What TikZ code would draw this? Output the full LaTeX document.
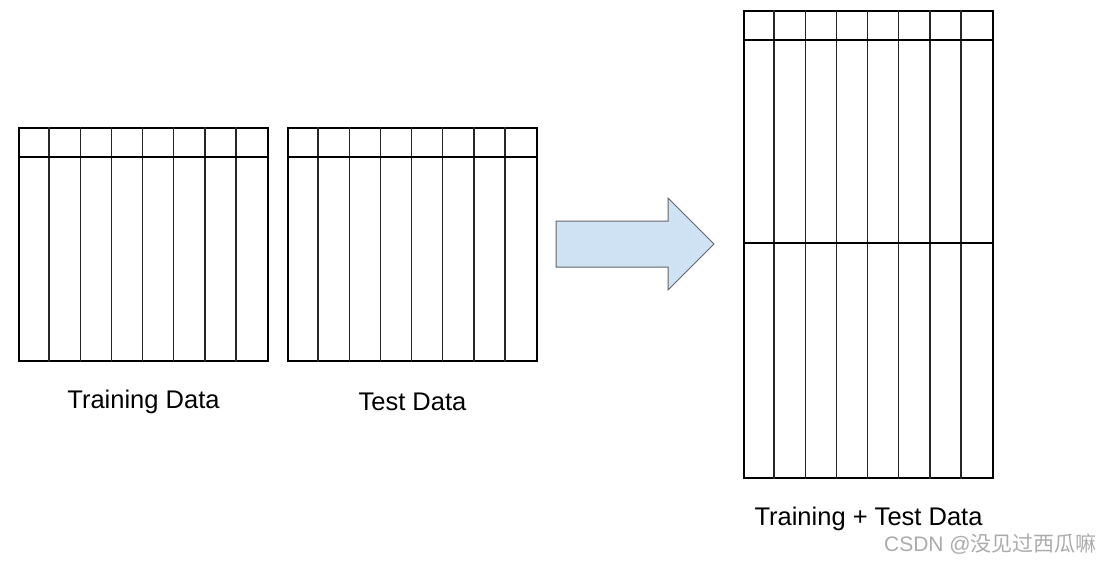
\documentclass[tikz,border=0pt]{standalone}
\usepackage{fontspec}
\setmainfont{Liberation Sans}
\newfontfamily\cjk{Noto Sans CJK SC}
\usetikzlibrary{positioning}

\begin{document}
\begin{tikzpicture}[x=1pt,y=-1pt,
  frame/.style={draw, line width=2pt, inner sep=0pt, minimum width=249pt},
  grid/.style={line width=1.5pt, draw=black!85},
  bar/.style={line width=2pt},
  datalabel/.style={font=\fontsize{25.5}{30}\selectfont},
  every node/.style={inner sep=0pt}]

\useasboundingbox (0,0) rectangle (1101,563);

% Left tables
\node[frame, minimum height=233pt, anchor=north west] (train) at (18,127) {};
\node[frame, minimum height=233pt, anchor=north west] (test) at (287,127) {};

% Combined table
\node[frame, minimum height=467pt, anchor=north west] (both) at (743,10) {};

\foreach \t in {train,test,both} {
  \foreach \i in {1,...,7}
    \draw[grid] ([xshift=\i*31.125pt]\t.north west) -- ([xshift=\i*31.125pt]\t.south west);
  \draw[bar] ([yshift=-30pt]\t.north west) -- ([yshift=-30pt]\t.north east);
}
\draw[bar] ([yshift=-233pt]both.north west) -- ([yshift=-233pt]both.north east);

% Arrow
\draw[fill={rgb,255:red,207;green,226;blue,243}, draw={rgb,255:red,100;green,100;blue,100}, line width=1pt]
  (556,221) -- (668,221) -- (668,198) -- (714,244) -- (668,290) -- (668,267) -- (556,267) -- cycle;

% Labels
\node[datalabel] (trainlbl) at ([yshift=-40pt]train.south) {Training Data};
\node[datalabel] (testlbl) at ([yshift=-40pt]test.south) {Test Data};
\node[datalabel] (bothlbl) at ([yshift=-40pt]both.south) {Training + Test Data};

\node[anchor=east, text=black!33, font=\fontsize{21}{24}\selectfont] (mark) at (1097,544) {CSDN @{\cjk 没见过西瓜嘛}};

\end{tikzpicture}
\end{document}
